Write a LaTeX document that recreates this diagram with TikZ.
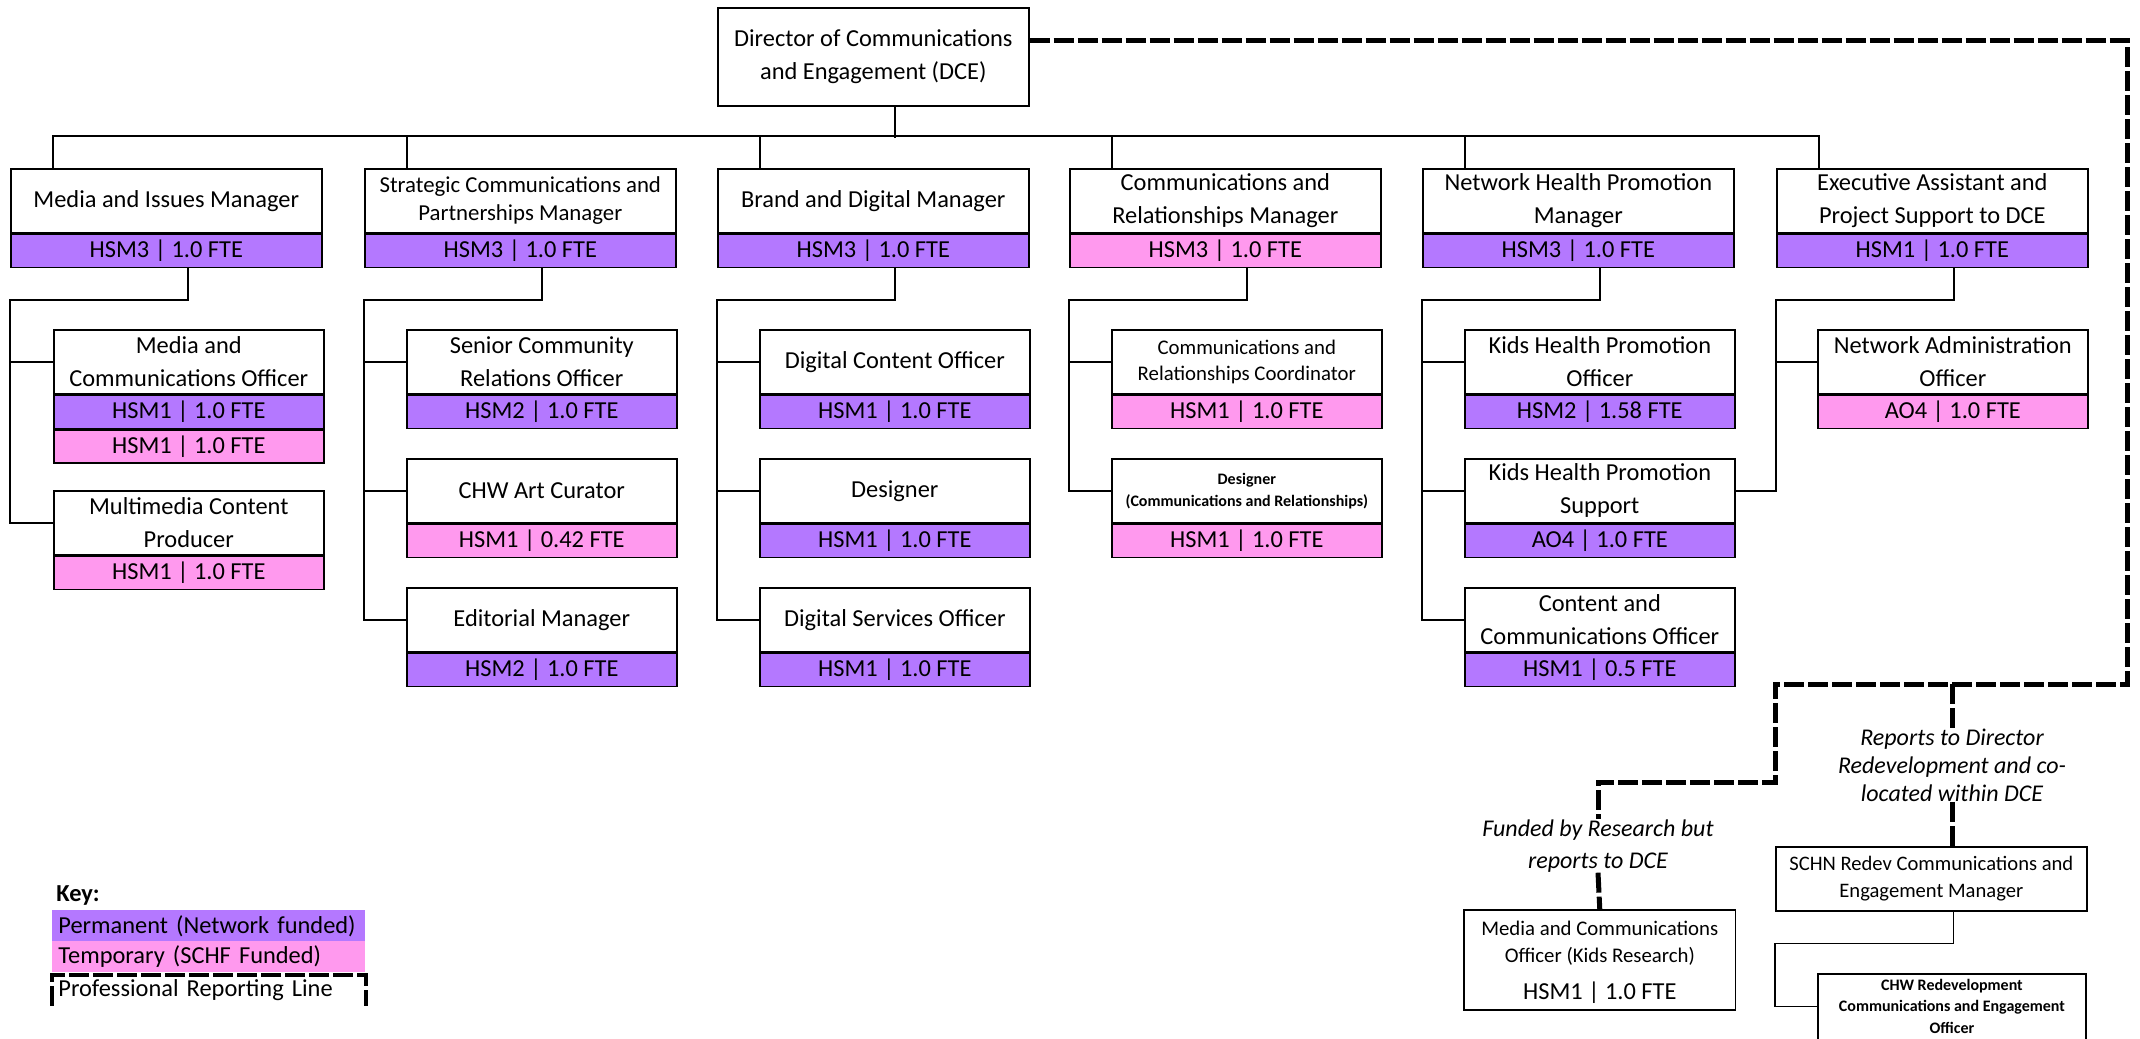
\documentclass[tikz,border=0pt]{standalone}
\usepackage{fontspec}
\setmainfont{Carlito}
\definecolor{permcol}{RGB}{180,120,255}
\definecolor{tempcol}{RGB}{255,153,238}

\begin{document}
\begin{tikzpicture}[x=0.5pt,y=-0.5pt,
        every node/.style={inner sep=0pt, align=center, font=\fontsize{12.2}{16.5}\selectfont},
        wide/.style={minimum width=155.5pt},
        narrow/.style={minimum width=135pt},
        head/.style={draw, line width=0.8pt, anchor=north west, minimum height=32pt},
        band/.style={draw, line width=0.8pt, anchor=north, minimum height=16.5pt},
        perm/.style={band, fill=permcol},
        temp/.style={band, fill=tempcol},
        conn/.style={line width=0.8pt},
        profline/.style={line width=2.5pt, dash pattern=on 10pt off 2pt},
        note/.style={font=\fontsize{12}{16}\selectfont\itshape},
        keyrow/.style={anchor=north west, minimum height=15.5pt, text width=150.5pt, inner xsep=3pt, align=left}]
        \useasboundingbox (0,0) rectangle (2140,1038);

                \node[head, wide, minimum height=49pt] (dce) at (717,7) {Director of Communications\\and Engagement (DCE)};

                \node[head, wide] (mim) at (10,168) {Media and Issues Manager};
                \node[perm, wide] (mimb) at (mim.south) {HSM3 | 1.0 FTE};
                \node[head, wide, font=\fontsize{11.4}{14}\selectfont] (scp) at (364,168) {Strategic Communications and\\Partnerships Manager};
                \node[perm, wide] (scpb) at (scp.south) {HSM3 | 1.0 FTE};
                \node[head, wide] (bdm) at (717,168) {Brand and Digital Manager};
                \node[perm, wide] (bdmb) at (bdm.south) {HSM3 | 1.0 FTE};
                \node[head, wide] (crm) at (1069,168) {Communications and\\Relationships Manager};
                \node[temp, wide] (crmb) at (crm.south) {HSM3 | 1.0 FTE};
                \node[head, wide] (nhp) at (1422,168) {Network Health Promotion\\Manager};
                \node[perm, wide] (nhpb) at (nhp.south) {HSM3 | 1.0 FTE};
                \node[head, wide] (eap) at (1776,168) {Executive Assistant and\\Project Support to DCE};
                \node[perm, wide] (eapb) at (eap.south) {HSM1 | 1.0 FTE};

                % column 1
                \node[head, narrow] (mco) at (53,329) {Media and\\Communications Officer};
                \node[perm, narrow] (mcob) at (mco.south) {HSM1 | 1.0 FTE};
                \node[temp, narrow] (mcot) at (mcob.south) {HSM1 | 1.0 FTE};
                \node[head, narrow] (mcp) at (53,490) {Multimedia Content\\Producer};
                \node[temp, narrow] (mcpb) at (mcp.south) {HSM1 | 1.0 FTE};
                % column 2
                \node[head, narrow] (scr) at (406,329) {Senior Community\\Relations Officer};
                \node[perm, narrow] (scrb) at (scr.south) {HSM2 | 1.0 FTE};
                \node[head, narrow] (art) at (406,458) {CHW Art Curator};
                \node[temp, narrow] (artb) at (art.south) {HSM1 | 0.42 FTE};
                \node[head, narrow] (edm) at (406,587) {Editorial Manager};
                \node[perm, narrow] (edmb) at (edm.south) {HSM2 | 1.0 FTE};
                % column 3
                \node[head, narrow] (dco) at (759,329) {Digital Content Officer};
                \node[perm, narrow] (dcob) at (dco.south) {HSM1 | 1.0 FTE};
                \node[head, narrow] (des) at (759,458) {Designer};
                \node[perm, narrow] (desb) at (des.south) {HSM1 | 1.0 FTE};
                \node[head, narrow] (dso) at (759,587) {Digital Services Officer};
                \node[perm, narrow] (dsob) at (dso.south) {HSM1 | 1.0 FTE};
                % column 4
                \node[head, narrow, font=\fontsize{10.4}{13}\selectfont] (crc) at (1111,329) {Communications and\\Relationships Coordinator};
                \node[temp, narrow] (crcb) at (crc.south) {HSM1 | 1.0 FTE};
                \node[head, narrow, font=\fontsize{8}{11}\selectfont\bfseries] (dcr) at (1111,458) {Designer\\(Communications and Relationships)};
                \node[temp, narrow] (dcrb) at (dcr.south) {HSM1 | 1.0 FTE};
                % column 5
                \node[head, narrow] (khp) at (1464,329) {Kids Health Promotion\\Officer};
                \node[perm, narrow] (khpb) at (khp.south) {HSM2 | 1.58 FTE};
                \node[head, narrow] (khs) at (1464,458) {Kids Health Promotion\\Support};
                \node[perm, narrow] (khsb) at (khs.south) {AO4 | 1.0 FTE};
                \node[head, narrow] (cco) at (1464,587) {Content and\\Communications Officer};
                \node[perm, narrow] (ccob) at (cco.south) {HSM1 | 0.5 FTE};
                % column 6
                \node[head, narrow] (nao) at (1817,329) {Network Administration\\Officer};
                \node[temp, narrow] (naob) at (nao.south) {AO4 | 1.0 FTE};

                \draw[conn] ([xshift=10.75pt]dce.south) -- ++(0,31);
                \draw[conn] ([xshift=-56.75pt]mim.north) -- ++(0,-32) -| ([xshift=-56.75pt]eap.north);
                \foreach \m in {scp,bdm,crm,nhp}
                        \draw[conn] ([xshift=-56.75pt]\m.north) -- ++(0,-32);
                \foreach \b/\m/\e in {mimb/mim/mcp.west, scpb/scp/edm.west, bdmb/bdm/dso.west, crmb/crm/dcr.west, nhpb/nhp/cco.west, eapb/eap/khs.east}
                        \draw[conn] ([xshift=10.75pt]\b.south) -- ++(0,32) -| (\e -| \m.west) -- (\e);
                \foreach \s/\m in {mco/mim, scr/scp, art/scp, dco/bdm, des/bdm, crc/crm, khp/nhp, khs/nhp, nao/eap}
                        \draw[conn] (\s.west -| \m.west) -- (\s.west);

                % outside the unit
                \node[head, wide, font=\fontsize{10.3}{13.5}\selectfont] (schn) at (1775,846) {SCHN Redev Communications and\\Engagement Manager};
                \node[head, narrow, draw=none, font=\fontsize{10.4}{13.5}\selectfont] (kro) at (1464,910) {Media and Communications\\Officer (Kids Research)};
                \node[band, narrow, draw=none] (krob) at (kro.south) {HSM1 | 1.0 FTE};
                \draw[line width=0.8pt] (kro.north west) rectangle (krob.south east);
                \node[anchor=north west, minimum width=133.5pt, minimum height=32pt, font=\fontsize{8}{10.75}\selectfont\bfseries] (chw) at (1818,974) {CHW Redevelopment\\Communications and Engagement\\Officer};
                \draw[line width=0.8pt] (chw.south west) |- (chw.north east) -- (chw.south east);
                \draw[conn] ([xshift=11pt]schn.south) -- ++(0,32) -| (chw.west -| schn.west) -- (chw.west);

                \node[note] (fundnote) at (1598,846) {Funded by Research but\\reports to DCE};
                \node[note, font=\fontsize{12}{14}\selectfont\itshape] (redevnote) at (1952,765) {Reports to Director\\Redevelopment and co-\\located within DCE};
                \coordinate (junc) at (1952,684);
                \draw[profline] ([yshift=8pt]dce.east) -| (2127,684) -| (1775,782) -| (fundnote.north);
                \draw[profline] (junc) -- (redevnote.north);
                \draw[profline] (redevnote.south) -- (redevnote.south |- schn.north);
                \draw[profline] (fundnote.south) -- (kro.north);

                % key
                \node[anchor=west, font=\fontsize{12.2}{14}\selectfont\bfseries] (key) at (56,895) {Key:};
                \node[keyrow, fill=permcol] (keyperm) at (52,910) {Permanent (Network funded)};
                \node[keyrow, fill=tempcol] (keytemp) at (52,941) {Temporary (SCHF Funded)};
                \node[keyrow, minimum height=15pt] (keyline) at (52,975) {Professional Reporting Line};
                \draw[profline, line width=2pt] (keyline.south west) |- (keyline.north east) -- (keyline.south east);
\end{tikzpicture}
\end{document}
